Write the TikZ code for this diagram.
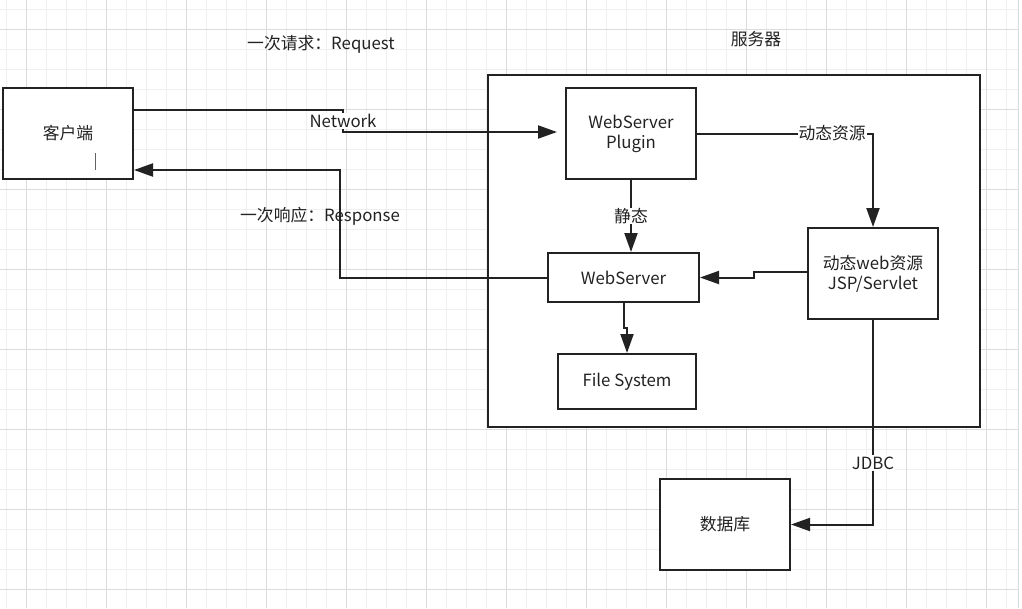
\documentclass[tikz,border=0pt]{standalone}
\usepackage{fontspec}
\setmainfont{Noto Sans CJK SC}
\usetikzlibrary{arrows.meta,calc}
\definecolor{ink}{HTML}{222222}
\definecolor{gridminor}{HTML}{EFEFEF}
\definecolor{gridmajor}{HTML}{DCDCDC}
\newcommand\myfs{\fontsize{16.8}{20}\selectfont}
\tikzset{
  box/.style={draw=ink,line width=2pt,fill=white,inner sep=0pt,align=center,font=\myfs,text=ink},
  conn/.style={draw=ink,line width=2pt},
  arr/.style={conn,-{Triangle[length=19pt,width=13pt]}},
  lbl/.style={fill=white,inner xsep=1pt,inner ysep=0pt,minimum height=16pt,font=\myfs,text=ink},
  txt/.style={font=\myfs,inner sep=0pt,text=ink},
}
\begin{document}
\begin{tikzpicture}[x=1pt,y=-1pt]
\useasboundingbox (0,0) rectangle (1022,608);
\fill[white] (0,0) rectangle (1022,608);
% grid
\foreach \x in {6.7,26.7,...,1010} \draw[gridminor,line width=1pt] (\x,0) -- (\x,608);
\foreach \y in {9,29,...,600} \draw[gridminor,line width=1pt] (0,\y) -- (1018,\y);
\foreach \x in {26.7,106.7,...,1000} \draw[gridmajor,line width=1pt] (\x,0) -- (\x,608);
\foreach \y in {29,109,...,600} \draw[gridmajor,line width=1pt] (0,\y) -- (1018,\y);
\draw[gridmajor,line width=1pt] (1018,0) -- (1018,608);

% nodes
\node[box,minimum width=492pt,minimum height=352pt] (server) at (734,251) {};
\node[txt] (servert) at (756,39) {服务器};
\node[box,minimum width=130pt,minimum height=91pt] (client) at (68,133.5) {客户端};
\node[box,minimum width=130pt,minimum height=91pt] (plugin) at (631,133.5) {WebServer\\Plugin};
\node[box,minimum width=151pt,minimum height=49pt] (webserver) at (623.5,277.5) {WebServer};
\node[box,minimum width=138pt,minimum height=55pt] (filesys) at (627,381.5) {File System};
\node[box,minimum width=130pt,minimum height=91pt] (dyn) at (873,273.5) {动态web资源\\JSP/Servlet};
\node[box,minimum width=130pt,minimum height=91pt] (db) at (725,524.5) {数据库};

\node[txt] (reqt) at (321,44) {一次请求：Request};
\node[txt] (respt) at (320,216) {一次响应：Response};

% text cursor in client box
\draw[ink!70,line width=0.8pt] (95,153) -- (95,170);

% request
\coordinate (n1) at (343,110);
\coordinate (n2) at (343,132);
\draw[arr,shorten >=8pt] (client.east |- n1) -- (n1) -- (n2) -- (plugin.west |- n2);
\node[lbl] (netl) at ($(n1)!0.5!(n2)$) {Network};

% response
\coordinate (r2) at (340,170);
\draw[arr] (webserver.west) -| (r2) -- (client.east |- r2);

% plugin -> dynamic
\draw[arr] (plugin.east) -| node[lbl,pos=0.384] {动态资源} (dyn.north);

% plugin -> webserver (static)
\draw[arr] (plugin.south) -- node[lbl] {静态} (plugin.south |- webserver.north);

% webserver -> file system
\coordinate (j) at (0,328);
\draw[arr] (webserver.south) -- (webserver.south |- j) -- (filesys.north |- j) -- (filesys.north);

% dynamic -> webserver
\coordinate (k1) at (754,272);
\draw[arr] (dyn.west |- k1) -- (k1) -- (k1 |- webserver.east) -- (webserver.east);

% dynamic -> db (JDBC)
\draw[arr] (dyn.south) |- node[lbl,pos=0.35] {JDBC} (db.east);
\end{tikzpicture}
\end{document}
